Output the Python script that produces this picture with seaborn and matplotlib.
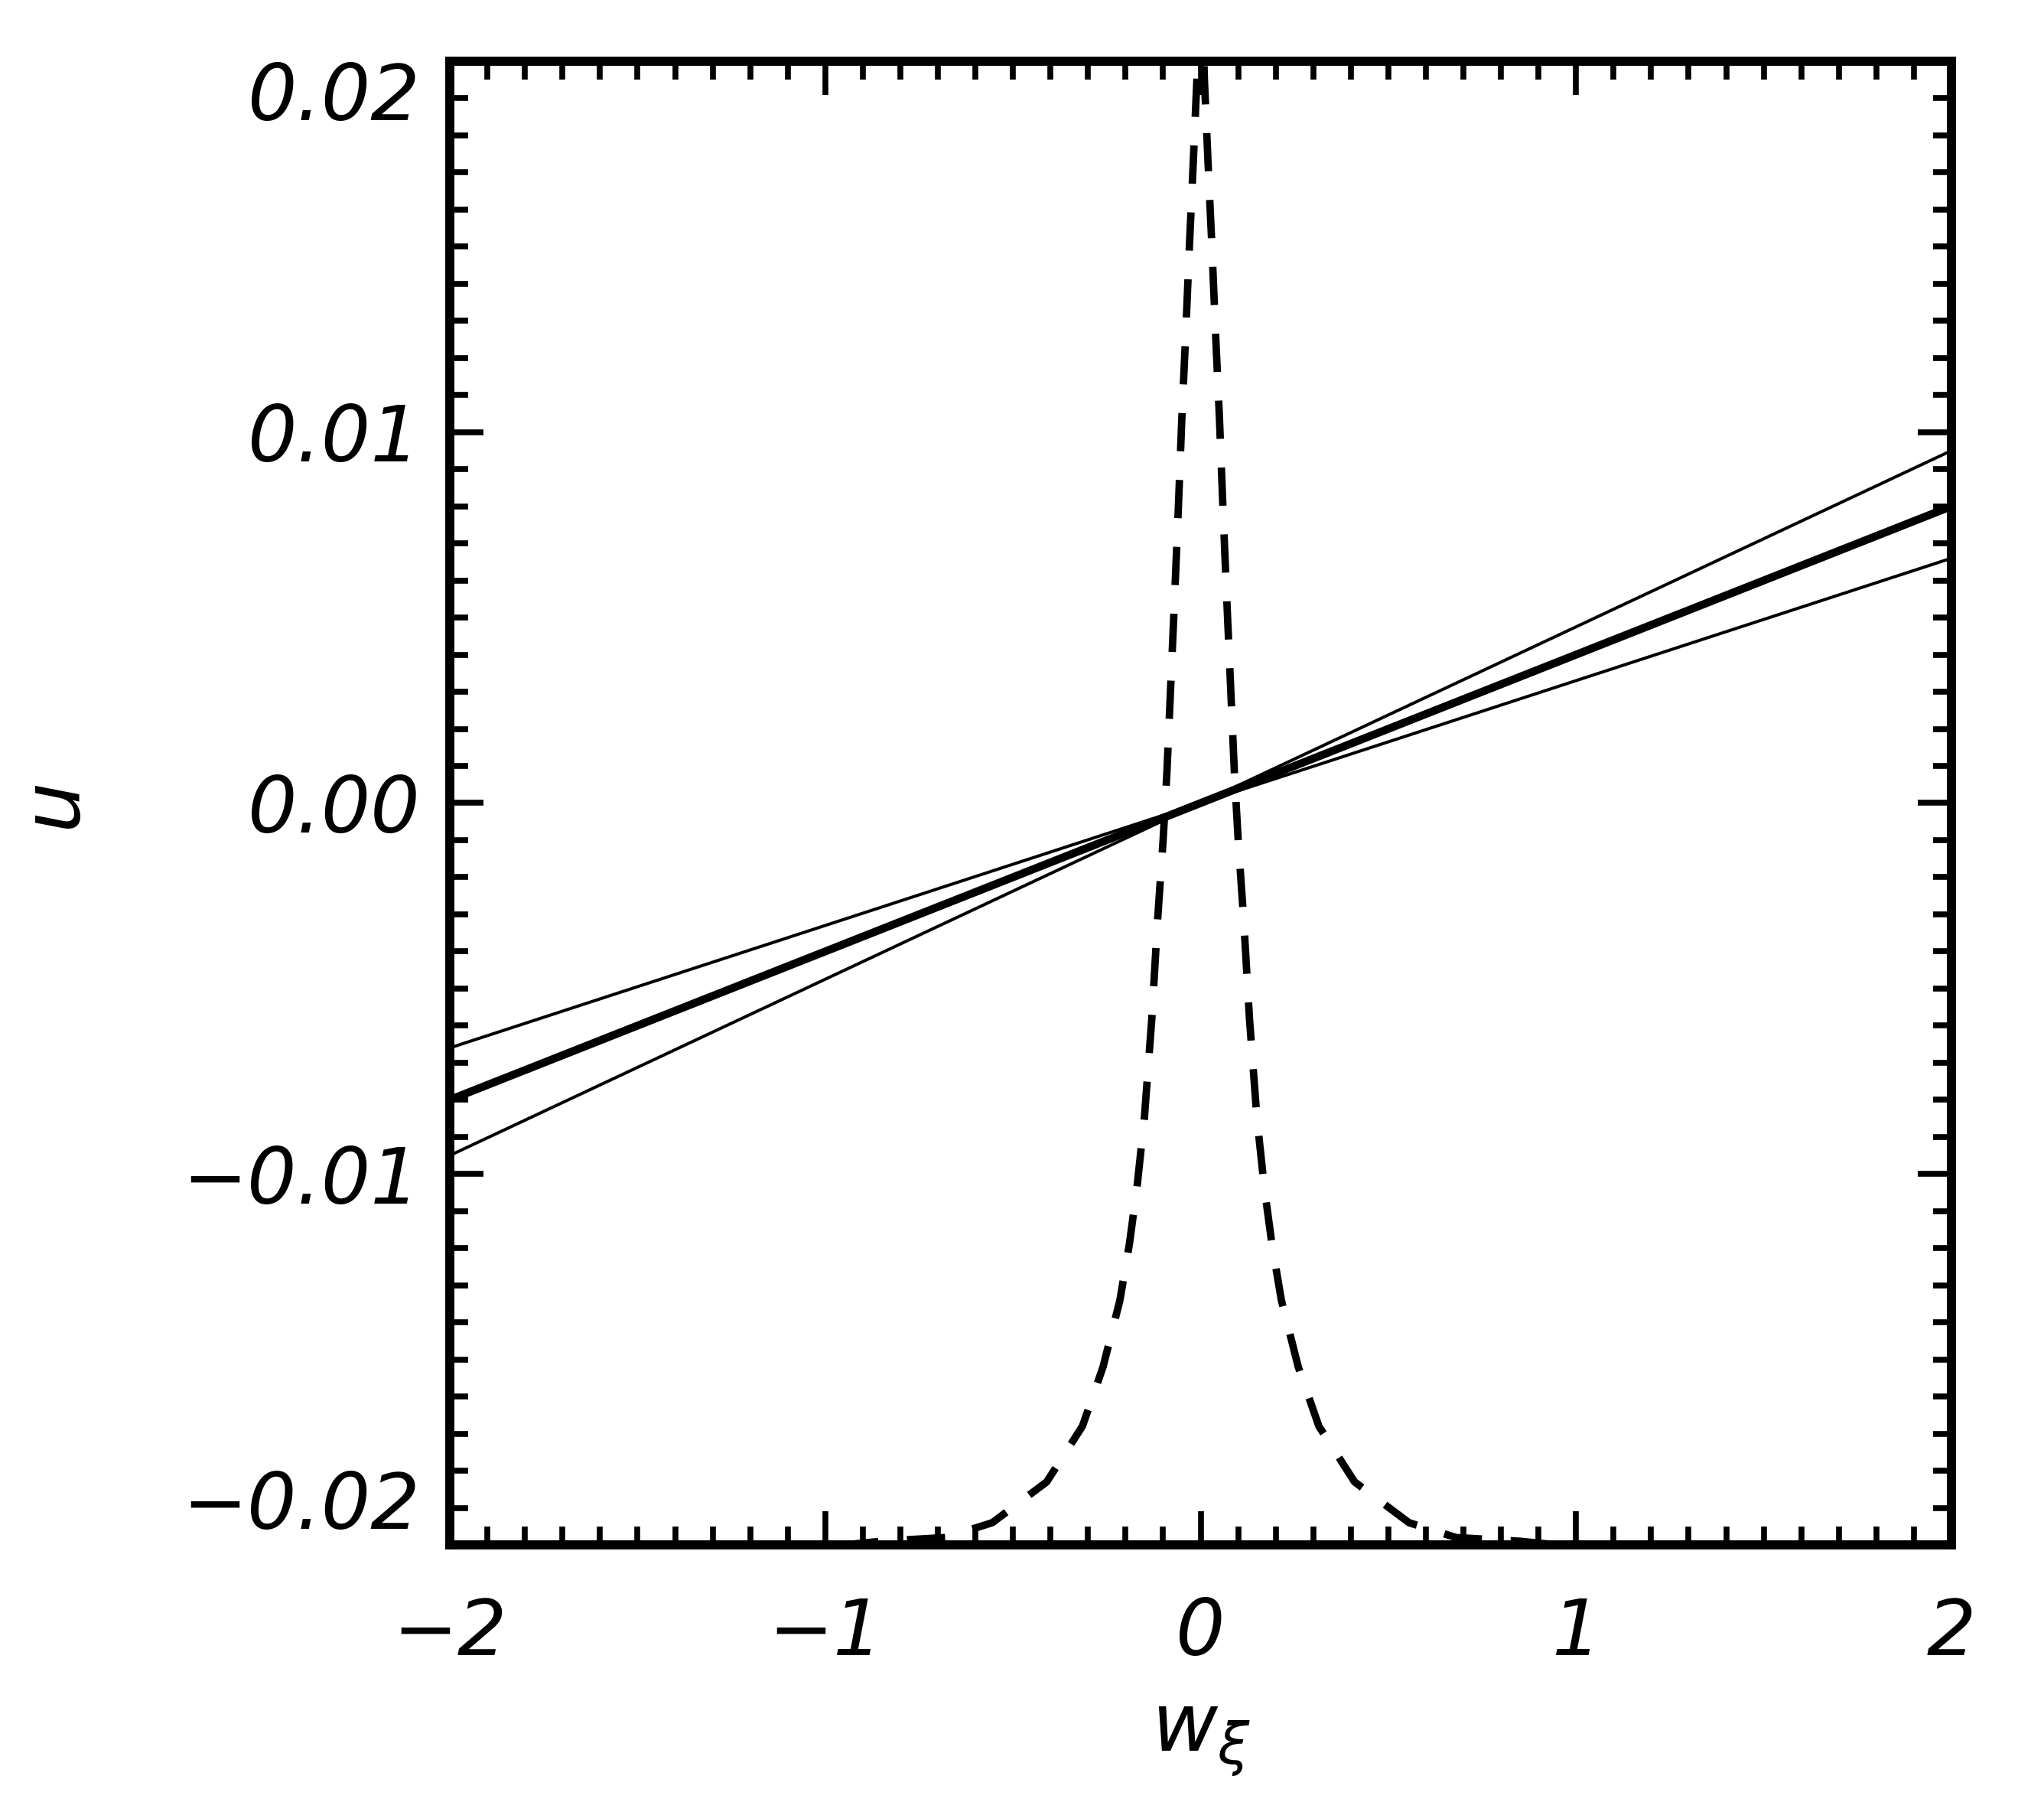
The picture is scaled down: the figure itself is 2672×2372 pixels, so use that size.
import numpy as np
import pandas as pd
import matplotlib
matplotlib.use("Agg")
import matplotlib.pyplot as plt
import seaborn as sns
from matplotlib.ticker import FixedLocator, FixedFormatter, MultipleLocator

# ---------------- data ----------------
line_x = [-2.0, 2.0]
thick_y = [-0.0080, 0.0080]      # thick solid line
thin_a_y = [-0.0095, 0.0095]     # steeper thin line
thin_b_y = [-0.0066, 0.0066]     # shallower thin line

# dashed peaked curve, right half (|x|, y); mirrored for the left half
half_x = [0.000, 0.010, 0.020, 0.030, 0.040, 0.050, 0.060, 0.070, 0.080,
          0.090, 0.100, 0.115, 0.130, 0.150, 0.170, 0.190, 0.215, 0.260,
          0.315, 0.410, 0.555, 0.680, 0.850, 0.950, 1.000, 1.200, 2.000]
half_y = [0.0230, 0.0195, 0.0172, 0.0150, 0.0126, 0.0104, 0.0078, 0.0054,
          0.0031, 0.0008, -0.0010, -0.0032, -0.0058, -0.0085, -0.0104,
          -0.0119, -0.0134, -0.0152, -0.0168, -0.0183, -0.0194, -0.0198,
          -0.0199, -0.0200, -0.0201, -0.0208, -0.0225]

xticks = [-2, -1, 0, 1, 2]
xtick_labels = ["\u22122", "\u22121", "0", "1", "2"]
yticks = [-0.02, -0.01, 0.0, 0.01, 0.02]
ytick_labels = ["\u22120.02", "\u22120.01", "0.00", "0.01", "0.02"]

curve_x = [-v for v in half_x[::-1]] + half_x[1:]
curve_y = half_y[::-1] + half_y[1:]

# ---------------- style ----------------
sns.set_style("ticks")
plt.rcParams["font.family"] = ["DejaVu Sans"]
plt.rcParams["font.style"] = "italic"
plt.rcParams["mathtext.fontset"] = "dejavusans"
plt.rcParams["lines.scale_dashes"] = False
plt.rcParams["axes.labelcolor"] = "black"
plt.rcParams["text.color"] = "black"

fig = plt.figure(figsize=(26.72, 23.72), dpi=100)
ax = fig.add_axes([0.2201, 0.1488, 0.7346, 0.8175])

sns.lineplot(x=line_x, y=thin_a_y, ax=ax, color="black", lw=2.9, estimator=None)
sns.lineplot(x=line_x, y=thin_b_y, ax=ax, color="black", lw=2.9, estimator=None)
sns.lineplot(x=line_x, y=thick_y, ax=ax, color="black", lw=7.5, estimator=None)
df = pd.DataFrame({"x": curve_x, "y": curve_y})
sns.lineplot(data=df, x="x", y="y", ax=ax, color="black", lw=7.0,
             estimator=None, sort=False)
ax.lines[-1].set_dashes((36, 27))
for ln in ax.lines:
    ln.set_solid_capstyle("butt")
    ln.set_dash_capstyle("butt")

ax.set_xlim(-2, 2)
ax.set_ylim(-0.02, 0.02)

ax.xaxis.set_major_locator(FixedLocator(xticks))
ax.xaxis.set_major_formatter(FixedFormatter(xtick_labels))
ax.yaxis.set_major_locator(FixedLocator(yticks))
ax.yaxis.set_major_formatter(FixedFormatter(ytick_labels))
ax.xaxis.set_minor_locator(MultipleLocator(0.1))
ax.yaxis.set_minor_locator(MultipleLocator(0.001))

ax.tick_params(which="both", direction="in", top=True, right=True,
               width=5.5, color="black", labelsize=73, labelcolor="black")
ax.tick_params(which="major", length=32)
ax.tick_params(which="minor", length=17)
ax.tick_params(axis="x", which="major", pad=48)
ax.tick_params(axis="y", which="major", pad=28)

for s in ax.spines.values():
    s.set_linewidth(8.6)
    s.set_color("black")
    s.set_visible(True)

ax.set_xlabel(r"$w_\xi$", fontsize=76, color="black")
ax.set_ylabel(r"$u$", fontsize=76, color="black")
ax.xaxis.set_label_coords(0.5, -0.105)
ax.yaxis.set_label_coords(-0.235, 0.496)

# end labels of the y axis sit slightly inside the frame, as in the original
fig.canvas.draw()
yticks_objs = ax.yaxis.get_major_ticks()
yticks_objs[-1].label1.set_verticalalignment("top")
yticks_objs[0].label1.set_verticalalignment("bottom")

ax.set_facecolor("white")
fig.patch.set_facecolor("white")
fig.savefig("out.png", dpi=100, facecolor="white")
